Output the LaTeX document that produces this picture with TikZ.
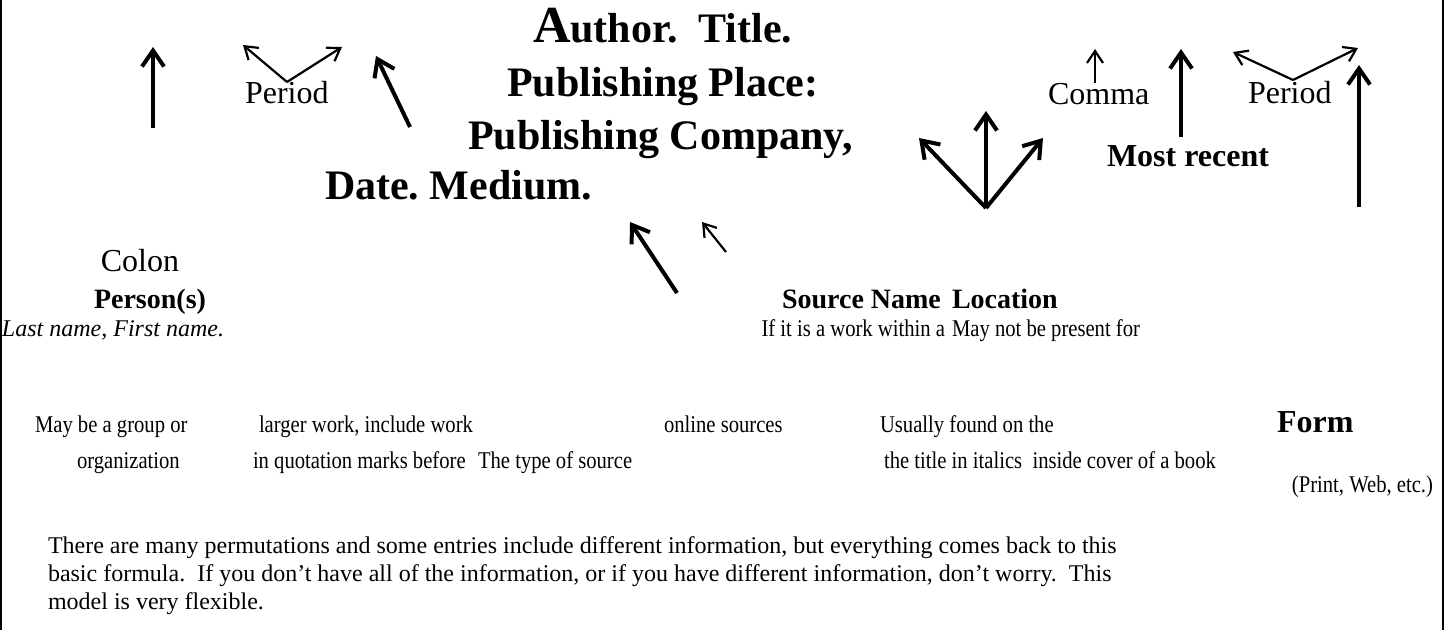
\documentclass[tikz,border=0pt]{standalone}
\usepackage{fontspec}
\setmainfont{Liberation Serif}
\newfontfamily\condf[FakeStretch=0.86]{Liberation Serif}
\usetikzlibrary{arrows.meta}
\begin{document}
\frenchspacing
\begin{tikzpicture}[x=0.5pt,y=-0.5pt,
  txt/.style={inner sep=0pt, outer sep=0pt, font=\fontsize{12}{14}\selectfont},
  ctxt/.style={inner sep=0pt, outer sep=0pt, font=\condf\fontsize{12}{14}\selectfont},
  lbl/.style={inner sep=0pt, outer sep=0pt, font=\fontsize{16}{18}\selectfont},
  head/.style={inner sep=0pt, outer sep=0pt, font=\fontsize{14}{16}\selectfont\bfseries},
  ttl/.style={inner sep=0pt, outer sep=0pt, font=\fontsize{21}{25}\selectfont\bfseries},
  bigarr/.style={line width=2pt, -{Straight Barb[length=8pt,width=11pt]}},
  thinarr/.style={line width=1.1pt, -{Straight Barb[length=6pt,width=8pt]}},
  frame/.style={line width=1pt}]
\useasboundingbox (0,0) rectangle (1444,630);
% side rules
\coordinate (lt) at (1,0); \coordinate (lb) at (1,630);
\coordinate (rt) at (1443,0); \coordinate (rb) at (1443,630);
\draw[frame] (lt) -- (lb);
\draw[frame] (rt) -- (rb);
% title
\node[ttl, anchor=base west] (t1) at (533,43) {{\fontsize{26}{30}\selectfont A}uthor.~ Title.};
\node[ttl, anchor=base west] (t2) at (507,97) {Publishing Place:};
\node[ttl, anchor=base west] (t3) at (468,150) {Publishing Company,};
\node[ttl, anchor=base west] (t4) at (325,200) {Date. Medium.};
% arrows top left
\coordinate (a1s) at (153,128); \coordinate (a1e) at (153,47);
\draw[bigarr] (a1s) -- (a1e);
\node[lbl, anchor=base west] (per1) at (245,104) {Period};
\coordinate (p1j) at (287,82); \coordinate (p1l) at (243,45); \coordinate (p1r) at (342,47);
\draw[thinarr] (p1j) -- (p1l);
\draw[thinarr] (p1j) -- (p1r);
\coordinate (a2s) at (410,127); \coordinate (a2e) at (376,56);
\draw[bigarr] (a2s) -- (a2e);
% arrows below title
\coordinate (a3s) at (677,293); \coordinate (a3e) at (630,222);
\draw[bigarr] (a3s) -- (a3e);
\coordinate (a4s) at (726,252); \coordinate (a4e) at (702,222);
\draw[thinarr] (a4s) -- (a4e);
% fan
\coordinate (fo) at (986,208);
\coordinate (fu) at (986,111); \coordinate (fl) at (919,138); \coordinate (fr) at (1043,138);
\draw[bigarr] (fo) -- (fu);
\draw[bigarr] (fo) -- (fl);
\draw[bigarr] (fo) -- (fr);
% comma
\node[lbl, anchor=base west] (com) at (1048,105) {Comma};
\coordinate (cs) at (1095,83); \coordinate (ce) at (1095,49);
\draw[thinarr] (cs) -- (ce);
\coordinate (a5s) at (1181,137); \coordinate (a5e) at (1181,49);
\draw[bigarr] (a5s) -- (a5e);
\node[lbl, font=\fontsize{16}{18}\selectfont\bfseries, anchor=base west] (mr) at (1107,167) {Most recent};
% period right
\node[lbl, anchor=base west] (per2) at (1248,104) {Period};
\coordinate (p2j) at (1293,80); \coordinate (p2l) at (1233,52); \coordinate (p2r) at (1358,48);
\draw[thinarr] (p2j) -- (p2l);
\draw[thinarr] (p2j) -- (p2r);
\coordinate (a6s) at (1359,207); \coordinate (a6e) at (1359,65);
\draw[bigarr] (a6s) -- (a6e);
% lower labels
\node[lbl, anchor=base] (colon) at (140,272) {Colon};
\node[head, anchor=base] (pers) at (150,309) {Person(s)};
\node[txt, anchor=base west, font=\fontsize{12}{14}\selectfont\itshape] (lastn) at (2,336) {Last name, First name.};
\node[head, anchor=base west] (srcn) at (782,309) {Source Name};
\node[head, anchor=base west] (loc) at (952,309) {Location};
\node[ctxt, anchor=base east] (ifit) at (945,336) {If it is a work within a};
\node[ctxt, anchor=base west] (maynot) at (952,336) {May not be present for};
% row 1
\node[ctxt, anchor=base west] (r1a) at (35,432) {May be a group or};
\node[ctxt, anchor=base west] (r1b) at (259,432) {larger work, include work};
\node[ctxt, anchor=base west] (r1c) at (664,432) {online sources};
\node[ctxt, anchor=base west] (r1d) at (880,432) {Usually found on the};
\node[txt, font=\fontsize{16}{18}\selectfont\bfseries, anchor=base west] (form) at (1277,432) {Form};
% row 2
\node[ctxt, anchor=base west] (r2a) at (77,468) {organization};
\node[ctxt, anchor=base west] (r2b) at (253,468) {in quotation marks before};
\node[ctxt, anchor=base west] (r2c) at (478,468) {The type of source};
\node[ctxt, anchor=base west] (r2d) at (884,468) {the title in italics\ \ inside cover of a book};
\node[ctxt, anchor=base east] (pwe) at (1433,492) {(Print, Web, etc.)};
% paragraph
\node[txt, anchor=base west] (pa) at (48,553) {There are many permutations and some entries include different information, but everything comes back to this};
\node[txt, anchor=base west] (pb) at (48,581) {basic formula.\ \ If you don’t have all of the information, or if you have different information, don’t worry.\ \ This};
\node[txt, anchor=base west] (pc) at (48,609) {model is very flexible.};
\end{tikzpicture}
\end{document}
